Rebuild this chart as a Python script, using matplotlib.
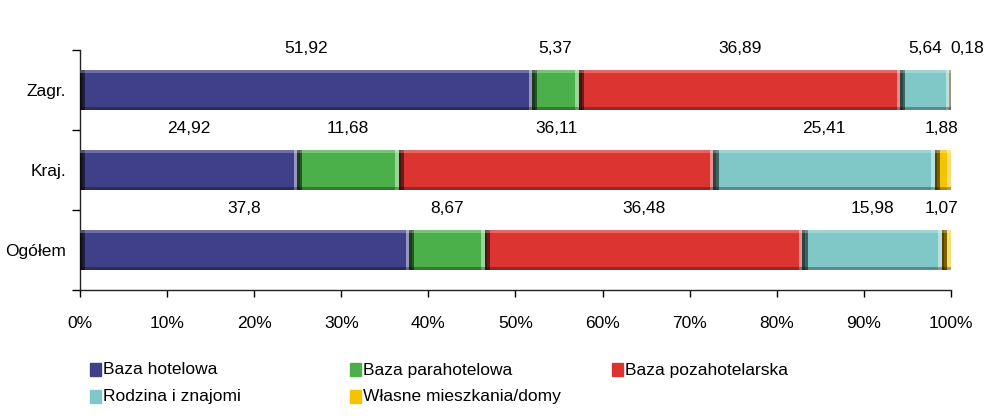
import numpy as np
import matplotlib.pyplot as plt
from matplotlib.patches import Rectangle

plt.rcParams['font.family'] = ['Liberation Sans', 'DejaVu Sans']

kategorie = ['Zagr.', 'Kraj.', 'Ogółem']
serie = ['Baza hotelowa', 'Baza parahotelowa', 'Baza pozahotelarska',
         'Rodzina i znajomi', 'Własne mieszkania/domy']
hotelowa = [51.92, 24.92, 37.8]
parahotelowa = [5.37, 11.68, 8.67]
pozahotelarska = [36.89, 36.11, 36.48]
rodzina = [5.64, 25.41, 15.98]
wlasne = [0.18, 1.88, 1.07]
etykiety = [['51,92', '5,37', '36,89', '5,64', '0,18'],
            ['24,92', '11,68', '36,11', '25,41', '1,88'],
            ['37,8', '8,67', '36,48', '15,98', '1,07']]
kolory = ['#3f3f8a', '#4bb04a', '#dc3430', '#80c8c8', '#f5c400']

wartosci = np.array([hotelowa, parahotelowa, pozahotelarska, rodzina, wlasne])
# normalizacja do 100%
udzialy = wartosci / wartosci.sum(axis=0) * 100

fig = plt.figure(figsize=(9.94, 4.2), dpi=100)
ax = fig.add_axes([0.0805, 0.3095, 0.8762, 0.5714])

y = np.arange(len(kategorie))
h = 0.5
lewo = np.zeros(len(kategorie))
for i in range(len(serie)):
    ax.barh(y, udzialy[i], left=lewo, height=h, color=kolory[i], edgecolor='none', zorder=2)
    # efekt 3D: ciemna lewa krawedz, jasna prawa
    ax.barh(y, np.minimum(0.6, udzialy[i]), left=lewo, height=h, color='black', alpha=0.5,
            edgecolor='none', zorder=3)
    ax.barh(y, np.minimum(0.3, udzialy[i]), left=lewo, height=h, color='black', alpha=0.3,
            edgecolor='none', zorder=3)
    ax.barh(y, np.minimum(0.4, udzialy[i]), left=lewo + udzialy[i] - np.minimum(0.4, udzialy[i]),
            height=h, color='white', alpha=0.45, edgecolor='none', zorder=3)
    ax.barh(y - h / 2 + 0.02, udzialy[i], left=lewo, height=0.04, color='white', alpha=0.25,
            edgecolor='none', zorder=3)
    ax.barh(y + h / 2 - 0.02, udzialy[i], left=lewo, height=0.04, color='black', alpha=0.3,
            edgecolor='none', zorder=3)
    for j in range(len(kategorie)):
        xc = lewo[j] + udzialy[i][j] / 2
        if i == 4 and j == 0:
            xc = 101.9
        elif i == 4:
            xc = min(xc, 98.9)
        ax.text(xc, y[j] - 0.52, etykiety[j][i], ha='center', va='center', fontsize=12.5, zorder=4)
    lewo = lewo + udzialy[i]

ax.set_xlim(0, 100)
ax.set_ylim(2.5, -0.5)
ax.set_xticks(np.arange(0, 101, 10))
ax.set_xticklabels([f'{v}%' for v in range(0, 101, 10)], fontsize=12.5)
ax.set_yticks([-0.5, 0.5, 1.5, 2.5])
ax.set_yticklabels([])
ax.set_yticks(y, minor=True)
ax.set_yticklabels(kategorie, minor=True, fontsize=12.5)
ax.tick_params(axis='y', which='minor', length=0, pad=10)
ax.tick_params(axis='y', which='major', length=6, direction='out', width=1)
ax.tick_params(axis='x', length=5, direction='out', width=1, pad=14)
for s in ['top', 'right']:
    ax.spines[s].set_visible(False)
for s in ['left', 'bottom']:
    ax.spines[s].set_linewidth(1)
    ax.spines[s].set_color('#222222')

# legenda pod wykresem
poz_x = [90, 350, 612, 90, 350]
poz_y = [370, 370, 370, 397, 397]
for i, nazwa in enumerate(serie):
    fx = poz_x[i] / 994
    fy = 1 - poz_y[i] / 420
    fig.patches.append(Rectangle((fx, fy - 6 / 420), 11 / 994, 13 / 420,
                                 transform=fig.transFigure, color=kolory[i]))
    fig.text(fx + 13 / 994, fy, nazwa, ha='left', va='center', fontsize=12.5)

fig.savefig('out.png', dpi=100)
